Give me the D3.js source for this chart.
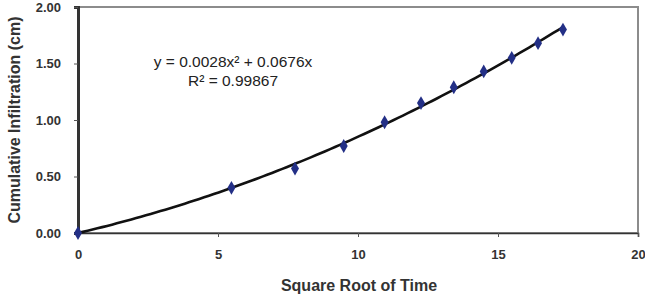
<!DOCTYPE html>
<html>
<head>
<meta charset="utf-8" />
<title>Cumulative Infiltration</title>
<script src="https://d3js.org/d3.v7.min.js"></script>
<style>
    body { margin: 0; background: #fff; }
    .tick text { font-family: "Liberation Sans", Arial, sans-serif; font-weight: bold; font-size: 13px; fill: #333; }
    .axis-title { font-family: "Liberation Sans", Arial, sans-serif; font-weight: bold; font-size: 16px; fill: #333; }
    .eq { font-family: "Liberation Sans", Arial, sans-serif; font-size: 15.5px; fill: #222; }
</style>
</head>
<body>
<svg id="chart" width="645" height="298"></svg>
<script>
    // data
    var sqrtTime = [0, 5.48, 7.75, 9.49, 10.95, 12.25, 13.42, 14.49, 15.49, 16.43, 17.32];
    var infiltration = [0, 0.40, 0.57, 0.77, 0.98, 1.15, 1.29, 1.43, 1.55, 1.68, 1.80];
    var xTicks = [0, 5, 10, 15, 20];
    var yTicks = [0, 0.5, 1.0, 1.5, 2.0];
    var eqLines = ["y = 0.0028x\u00B2 + 0.0676x", "R\u00B2 = 0.99867"];

    var margin = { top: 7, right: 7, bottom: 65, left: 78 };
    var width = 645 - margin.left - margin.right,
        height = 298 - margin.top - margin.bottom;

    var svg = d3.select("#chart")
        .append("g")
        .attr("transform", "translate(" + margin.left + "," + margin.top + ")");

    var x = d3.scaleLinear().domain([0, 20]).range([0, width]);
    var y = d3.scaleLinear().domain([0, 2]).range([height, 0]);

    // plot area frame (top and right, grey)
    svg.append("rect")
        .attr("x", 0).attr("y", 0)
        .attr("width", width).attr("height", height)
        .attr("fill", "none")
        .attr("stroke", "#8c8c8c")
        .attr("stroke-width", 2);

    var xAxis = svg.append("g")
        .attr("transform", "translate(0," + height + ")")
        .call(d3.axisBottom(x).tickValues(xTicks).tickSize(4).tickPadding(13).tickFormat(d3.format("d")));
    xAxis.select(".domain").attr("stroke", "#333").attr("stroke-width", 1.6);
    xAxis.selectAll(".tick line").attr("stroke", "#555");

    var yAxis = svg.append("g")
        .call(d3.axisLeft(y).tickValues(yTicks).tickSize(4).tickPadding(13).tickFormat(d3.format(".2f")));
    yAxis.select(".domain").attr("stroke", "#333").attr("stroke-width", 3);
    yAxis.selectAll(".tick line").attr("stroke", "#555");

    // polynomial trend line through origin, fitted by least squares
    var s2 = 0, s3 = 0, s4 = 0, sy1 = 0, sy2 = 0;
    sqrtTime.forEach(function(v, i) {
        var w = infiltration[i];
        s2 += v * v; s3 += v * v * v; s4 += v * v * v * v;
        sy1 += v * w; sy2 += v * v * w;
    });
    var det = s4 * s2 - s3 * s3;
    var a = (sy2 * s2 - sy1 * s3) / det;
    var b = (s4 * sy1 - s3 * sy2) / det;

    var trend = d3.range(0, 101).map(function(i) {
        var t = sqrtTime[sqrtTime.length - 1] * i / 100;
        return [t, a * t * t + b * t];
    });

    svg.append("path")
        .datum(trend)
        .attr("fill", "none")
        .attr("stroke", "#111")
        .attr("stroke-width", 2.6)
        .attr("d", d3.line()
            .x(function(d) { return x(d[0]); })
            .y(function(d) { return y(d[1]); }));

    // markers
    svg.selectAll(".pt")
        .data(sqrtTime)
        .enter().append("path")
        .attr("class", "pt")
        .attr("transform", function(d, i) {
            return "translate(" + x(d) + "," + y(infiltration[i]) + ")";
        })
        .attr("d", d3.symbol().type(d3.symbolDiamond).size(55))
        .attr("fill", "#232f86");

    // equation
    svg.selectAll(".eq")
        .data(eqLines)
        .enter().append("text")
        .attr("class", "eq")
        .attr("x", 155)
        .attr("y", function(d, i) { return 60 + i * 19; })
        .attr("text-anchor", "middle")
        .text(function(d) { return d; });

    // axis titles
    svg.append("text")
        .attr("class", "axis-title")
        .attr("x", width / 2 + 1)
        .attr("y", height + 58)
        .attr("text-anchor", "middle")
        .text("Square Root of Time");

    svg.append("text")
        .attr("class", "axis-title")
        .attr("transform", "translate(" + (-58) + "," + (height / 2) + ") rotate(-90)")
        .attr("text-anchor", "middle")
        .text("Cumulative Infiltration (cm)");
</script>
</body>
</html>
